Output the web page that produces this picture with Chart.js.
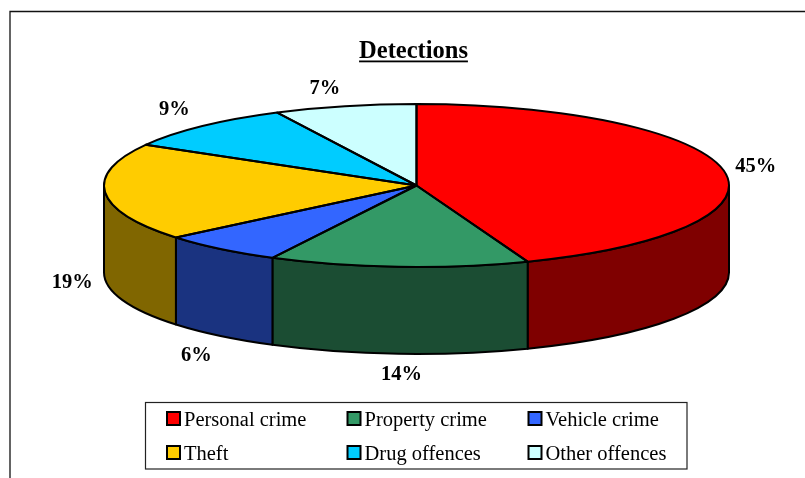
<!DOCTYPE html>
<html>
<head>
<meta charset="utf-8">
<style>html,body{margin:0;padding:0;background:#fff;overflow:hidden}canvas{display:block}</style>
<script src="https://cdn.jsdelivr.net/npm/chart.js@4"></script>
</head>
<body>
<canvas id="c" width="805" height="478"></canvas>
<script>
const chartTitle = 'Detections';
const categories = ['Personal crime', 'Property crime', 'Vehicle crime', 'Theft', 'Drug offences', 'Other offences'];
const detections = [44.5, 13.5, 6.4, 19.45, 9.4, 7.4];
const topColors = ['#FF0000', '#339966', '#3366FF', '#FFCC00', '#00CCFF', '#CCFFFF'];
const wallColors = ['#7F0000', '#1B4D33', '#1A3380', '#806600', '#006680', '#668080'];

const FONT = '"Liberation Serif","Times New Roman",serif';
const SQUASH = 81.5 / 312.5, DEPTH = 87, LINE = 2;
const labelNudge = [[32, -4], [3, 21], [-24, 20], [-33, 3], [-28, -16], [-20, -17]];
const legendBox = {x: 145.5, y: 402.5, w: 541.5, h: 66.5, cols: [167, 347.5, 528.5], rows: [412, 446], size: 13};

function eachArc(chart, fn) {
  chart.getDatasetMeta(0).data.forEach((a, i) => fn(a, i));
}
function wallPath(ctx, a, from, to) {
  const ry = a.outerRadius * SQUASH;
  ctx.beginPath();
  ctx.ellipse(a.x, a.y, a.outerRadius, ry, 0, from, to, false);
  ctx.lineTo(a.x + a.outerRadius * Math.cos(to), a.y + ry * Math.sin(to) + DEPTH);
  ctx.ellipse(a.x, a.y + DEPTH, a.outerRadius, ry, 0, to, from, true);
  ctx.closePath();
}
const pie3d = {
  id: 'pie3d',
  beforeDraw(chart) {
    const ctx = chart.ctx;
    ctx.save();
    ctx.strokeStyle = '#111';
    ctx.lineWidth = 1.3;
    ctx.beginPath();
    ctx.moveTo(10, 478);
    ctx.lineTo(10, 11.5);
    ctx.lineTo(805, 11.5);
    ctx.stroke();
    ctx.restore();
  },
  beforeDatasetsDraw(chart) {
    const ctx = chart.ctx;
    ctx.save();
    ctx.lineWidth = LINE;
    ctx.strokeStyle = '#000';
    ctx.lineJoin = 'round';
    eachArc(chart, (a, i) => {
      const from = Math.max(a.startAngle, 0), to = Math.min(a.endAngle, Math.PI);
      if (to <= from) return;
      wallPath(ctx, a, from, to);
      ctx.fillStyle = wallColors[i];
      ctx.fill();
      ctx.stroke();
    });
    ctx.restore();
    const a = chart.getDatasetMeta(0).data[0];
    ctx.save();
    ctx.translate(a.x, a.y);
    ctx.scale(1, SQUASH);
    ctx.translate(-a.x, -a.y);
  },
  afterDatasetsDraw(chart) {
    const ctx = chart.ctx;
    ctx.restore();
    ctx.save();
    ctx.lineWidth = LINE;
    ctx.strokeStyle = '#000';
    ctx.lineJoin = 'round';
    eachArc(chart, (a) => {
      ctx.beginPath();
      ctx.moveTo(a.x, a.y);
      ctx.ellipse(a.x, a.y, a.outerRadius, a.outerRadius * SQUASH, 0, a.startAngle, a.endAngle, false);
      ctx.closePath();
      ctx.stroke();
    });
    ctx.fillStyle = '#000';
    ctx.textAlign = 'center';
    ctx.textBaseline = 'middle';
    ctx.font = 'bold 20.5px ' + FONT;
    eachArc(chart, (a, i) => {
      const mid = (a.startAngle + a.endAngle) / 2;
      const lower = Math.sin(mid) > 0 ? DEPTH : 0;
      const x = a.x + a.outerRadius * Math.cos(mid) + labelNudge[i][0];
      const y = a.y + a.outerRadius * SQUASH * Math.sin(mid) + lower + labelNudge[i][1];
      ctx.fillText(Math.round(detections[i]) + '%', x, y);
    });
    ctx.restore();
  },
  afterDraw(chart) {
    const ctx = chart.ctx;
    ctx.save();
    ctx.fillStyle = '#000';
    ctx.textBaseline = 'alphabetic';
    ctx.font = 'bold 24.5px ' + FONT;
    ctx.textAlign = 'center';
    ctx.fillText(chartTitle, 413.5, 58);
    const tw = ctx.measureText(chartTitle).width;
    ctx.fillRect(413.5 - tw / 2, 60.5, tw, 1.8);

    const b = legendBox;
    ctx.strokeStyle = '#222';
    ctx.lineWidth = 1.2;
    ctx.fillStyle = '#fff';
    ctx.fillRect(b.x, b.y, b.w, b.h);
    ctx.strokeRect(b.x, b.y, b.w, b.h);
    ctx.font = '20.5px ' + FONT;
    ctx.textAlign = 'left';
    ctx.textBaseline = 'middle';
    categories.forEach((name, i) => {
      const col = i % 3, row = Math.floor(i / 3);
      const x = b.cols[col], y = b.rows[row];
      ctx.fillStyle = topColors[i];
      ctx.fillRect(x, y, b.size, b.size);
      ctx.strokeStyle = '#000';
      ctx.lineWidth = 2;
      ctx.strokeRect(x, y, b.size, b.size);
      ctx.fillStyle = '#000';
      ctx.fillText(name, x + b.size + 4, y + b.size / 2 + 2);
    });
    ctx.restore();
  }
};

new Chart(document.getElementById('c'), {
  type: 'pie',
  data: {
    labels: categories,
    datasets: [{
      data: detections,
      backgroundColor: topColors,
      borderWidth: 0,
      radius: 312.5,
      clip: false
    }]
  },
  options: {
    responsive: false,
    animation: false,
    layout: {padding: {left: 28, right: 0, top: 0, bottom: 107}},
    plugins: {legend: {display: false}, title: {display: false}, tooltip: {enabled: false}}
  },
  plugins: [pie3d]
});
</script>
</body>
</html>
